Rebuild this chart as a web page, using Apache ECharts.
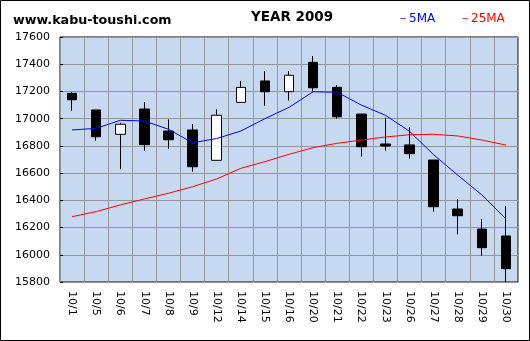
<!DOCTYPE html>
<html>
<head>
<meta charset="utf-8">
<script src="https://cdn.jsdelivr.net/npm/echarts@6/dist/echarts.min.js"></script>
<style>
html,body{margin:0;padding:0;background:#fff;}
#c{width:530px;height:341px;}
</style>
</head>
<body>
<div id="c"></div>
<script>
const categories = ['10/1','10/5','10/6','10/7','10/8','10/9','10/12','10/14','10/15','10/16','10/20','10/21','10/22','10/23','10/26','10/27','10/28','10/29','10/30'];
// [open, close, low, high]
const opens  = [17186,17064,16885,17071,16909,16917,16694,17120,17277,17198,17414,17230,17034,16814,16807,16696,16336,16189,16138];
const closes = [17139,16867,16959,16809,16845,16647,17025,17230,17198,17319,17227,17014,16794,16799,16743,16353,16287,16052,15898];
const lows   = [17058,16838,16628,16765,16779,16610,16694,17120,17095,17132,17198,17000,16721,16765,16706,16317,16150,15993,15800];
const highs  = [17196,17064,16970,17122,16995,16961,17071,17277,17350,17350,17460,17247,17034,17007,16939,16696,16410,16263,16358];
const ma5  = [16917,16929,16988,16983,16922,16823,16854,16909,17000,17083,17198,17194,17100,17025,16907,16735,16585,16440,16263];
const ma25 = [16280,16317,16366,16410,16452,16500,16557,16635,16684,16738,16787,16819,16843,16865,16882,16885,16873,16843,16806];
const yTicks = {min:15800, max:17600, step:200};

const ohlc = categories.map((c,i)=>[opens[i],closes[i],lows[i],highs[i]]);
const FONT = 'DejaVu Sans';

const chart = echarts.init(document.getElementById('c'), null, {renderer:'canvas'});
chart.setOption({
  animation:false,
  backgroundColor:'#ffffff',
  graphic:[
    {type:'rect', shape:{x:0.5,y:0.5,width:529,height:340}, style:{fill:'none',stroke:'#000',lineWidth:1}, silent:true},
    {type:'text', x:13, y:20.5, style:{text:'www.kabu-toushi.com', font:'bold 12.7px "DejaVu Sans"', fill:'#000', verticalAlign:'middle'}},
    {type:'text', x:292, y:17.5, style:{text:'YEAR 2009', font:'bold 13.5px "DejaVu Sans"', fill:'#000', align:'center', verticalAlign:'middle'}},
    {type:'text', x:397, y:18.5, style:{text:'－5MA', font:'12px "DejaVu Sans"', fill:'#0000ff', align:'left', verticalAlign:'middle'}},
    {type:'text', x:459, y:18.5, style:{text:'－25MA', font:'12px "DejaVu Sans"', fill:'#ff0000', align:'left', verticalAlign:'middle'}}
  ],
  grid:{left:60, top:37, width:458, height:245, show:true, backgroundColor:'#C6D9F1', borderColor:'#000', borderWidth:1},
  xAxis:{
    type:'category', data:categories, boundaryGap:true,
    axisLine:{show:false}, axisTick:{show:false},
    splitLine:{show:true, interval:0, lineStyle:{color:'#969696', width:1}},
    axisLabel:{interval:0, rotate:-90, margin:9, fontSize:11, fontFamily:FONT, color:'#000', padding:[7,0,0,0]}
  },
  yAxis:{
    type:'value', min:yTicks.min, max:yTicks.max, interval:yTicks.step, scale:true,
    axisLine:{show:false},
    axisTick:{show:true, inside:true, length:3, lineStyle:{color:'#000'}},
    splitLine:{show:true, lineStyle:{color:'#969696', width:1}},
    axisLabel:{margin:10, fontSize:11, fontFamily:FONT, color:'#000', formatter:(v)=>String(v)}
  },
  series:[
    {type:'candlestick', data:ohlc, barWidth:10,
     itemStyle:{color:'#ffffff', color0:'#000000', borderColor:'#000000', borderColor0:'#000000', borderColorDoji:'#000000', borderWidth:1}},
    {type:'line', data:ma5, symbol:'none', lineStyle:{color:'#0000ff', width:1}, z:3},
    {type:'line', data:ma25, symbol:'none', lineStyle:{color:'#ff0000', width:1}, z:3}
  ]
});
</script>
</body>
</html>
